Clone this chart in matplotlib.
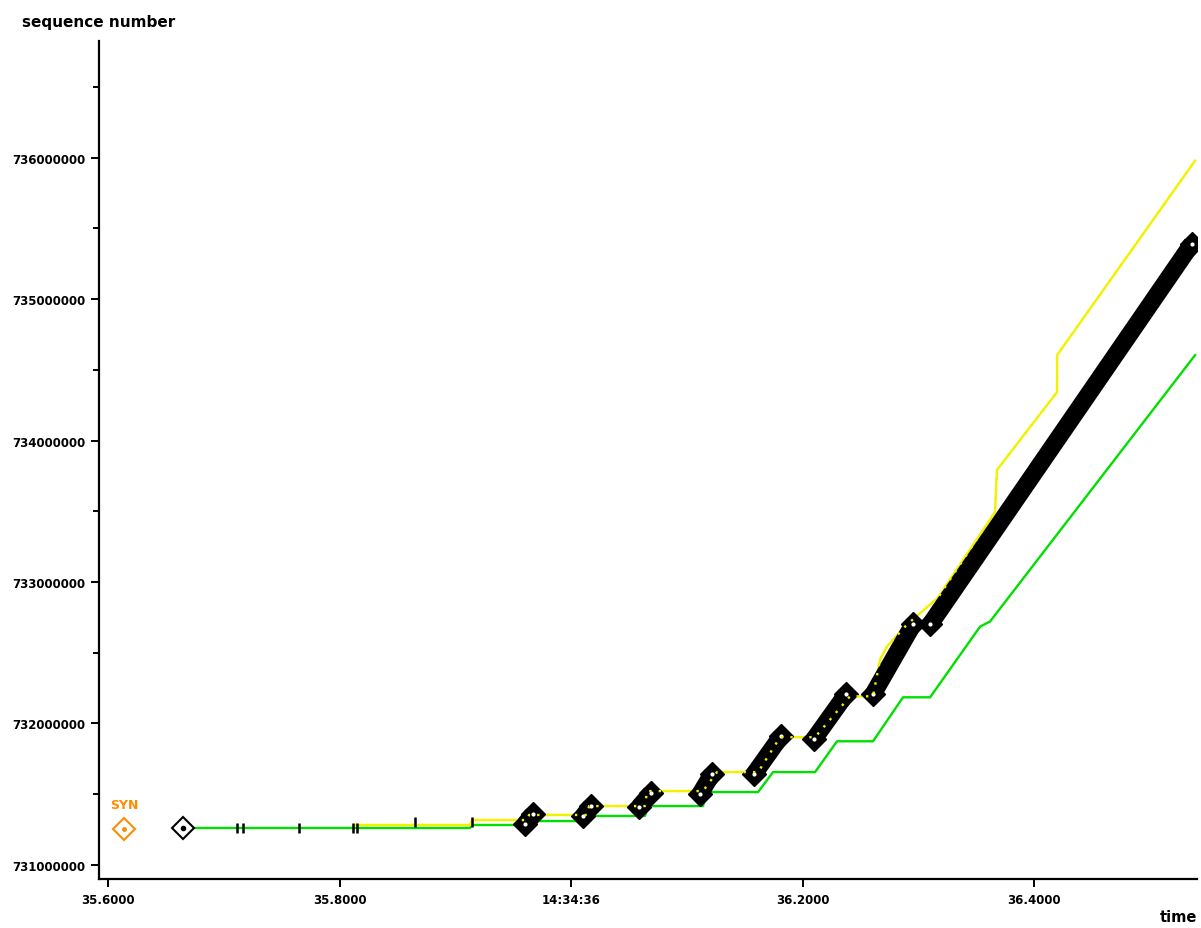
import matplotlib
matplotlib.use("Agg")
import matplotlib.pyplot as plt
from matplotlib.ticker import MultipleLocator

# ack line (green), time in s, seq in millions
ack_t = [35.6648, 35.9127, 35.9145, 35.9620, 35.9637, 36.0138, 36.0156, 36.0639,
         36.0665, 36.1140, 36.1175, 36.1616, 36.1745, 36.2108, 36.2298, 36.2609,
         36.2868, 36.3102, 36.3534, 36.3620, 36.5391]
ack_s = [731.261, 731.261, 731.282, 731.282, 731.310, 731.310, 731.346, 731.346,
         731.416, 731.416, 731.515, 731.515, 731.656, 731.656, 731.874, 731.874,
         732.185, 732.185, 732.685, 732.721, 734.604]

# receive window line (yellow)
win_t = [35.8134, 35.9127, 35.9145, 35.9620, 35.9637, 36.0138, 36.0156, 36.0639,
         36.0657, 36.1140, 36.1261, 36.1616, 36.1806, 36.2108, 36.2410, 36.2609,
         36.2670, 36.2730, 36.2903, 36.3171, 36.3663, 36.3680, 36.4199, 36.4199,
         36.5391]
win_s = [731.282, 731.282, 731.317, 731.317, 731.353, 731.353, 731.416, 731.416,
         731.522, 731.522, 731.656, 731.656, 731.903, 731.903, 732.192, 732.192,
         732.453, 732.544, 732.700, 732.890, 733.496, 733.793, 734.343, 734.604,
         735.979]

# data bursts (black): start / end of each flight
burst_t0 = [35.9603, 36.0104, 36.0587, 36.1114, 36.1581, 36.2099, 36.2609, 36.3102]
burst_t1 = [35.9672, 36.0173, 36.0691, 36.1218, 36.1814, 36.2376, 36.2955, 36.5365]
burst_s0 = [731.289, 731.346, 731.409, 731.501, 731.642, 731.889, 732.206, 732.700]
burst_s1 = [731.360, 731.416, 731.508, 731.642, 731.910, 732.206, 732.700, 735.393]

# single small segments before the bursts
small_t = [35.7114, 35.7166, 35.7650, 35.8117, 35.8151, 35.8652, 35.9145]
small_s = [731.261, 731.261, 731.261, 731.261, 731.261, 731.300, 731.305]

first_t, first_s = 35.6648, 731.261
syn_t, syn_s = 35.6138, 731.254

xtick_vals = [35.6, 35.8, 36.0, 36.2, 36.4]
xtick_labels = ["35.6000", "35.8000", "14:34:36", "36.2000", "36.4000"]
ytick_vals = [731, 732, 733, 734, 735, 736]
ytick_labels = ["731000000", "732000000", "733000000", "734000000", "735000000", "736000000"]

fig = plt.figure(figsize=(12.01, 9.29), dpi=100)
ax = fig.add_axes([0.0824, 0.0527, 0.9143, 0.9021])

ax.plot(ack_t, ack_s, color="#00e000", lw=1.7, zorder=2)
ax.plot(win_t, win_s, color="#f2f200", lw=1.7, zorder=2.5)

for t0, t1, s0, s1 in zip(burst_t0, burst_t1, burst_s0, burst_s1):
    ax.plot([t0, t1], [s0, s1], color="black", lw=12.5, solid_capstyle="butt", zorder=3)
    ax.plot([t0, t1], [s0, s1], ls="none", marker="D", ms=12, color="black", zorder=3)
    ax.plot([t0, t1], [s0, s1], ls="none", marker="o", ms=2, color="white", zorder=4)

# window line shows through the bursts as dots
ax.plot(win_t, win_s, color="#f2f200", lw=1.7, ls=(0, (1, 3)), zorder=4)

ax.plot(small_t, small_s, ls="none", marker="|", ms=7, mew=1.8, color="black", zorder=5)

ax.plot([first_t], [first_s], marker="D", ms=11, mfc="white", mec="black", mew=1.5, zorder=5)
ax.plot([first_t], [first_s], marker="o", ms=3, color="black", zorder=6)

ax.plot([syn_t], [syn_s], marker="D", ms=11, mfc="white", mec="#ff8c00", mew=1.5, zorder=5)
ax.plot([syn_t], [syn_s], marker="o", ms=2.5, color="#ff8c00", zorder=6)
ax.annotate("SYN", (syn_t, syn_s), xytext=(0, 13), textcoords="offset points",
            ha="center", va="bottom", color="#ff8c00", fontsize=9, fontweight="bold")

ax.set_xlim(35.5922, 36.5408)
ax.set_ylim(730.90, 736.825)

ax.set_xticks(xtick_vals)
ax.set_xticklabels(xtick_labels)
ax.set_yticks(ytick_vals)
ax.set_yticklabels(ytick_labels)
ax.yaxis.set_minor_locator(MultipleLocator(0.5))

for side in ["top", "right"]:
    ax.spines[side].set_visible(False)
for side in ["left", "bottom"]:
    ax.spines[side].set_linewidth(1.6)

ax.tick_params(axis="both", which="major", direction="out", length=6, width=1.4,
               labelsize=8.5, pad=4)
ax.tick_params(axis="y", which="minor", direction="out", length=4.5, width=1.4)
for lbl in ax.get_xticklabels() + ax.get_yticklabels():
    lbl.set_fontweight("bold")

fig.text(22 / 1201, 1 - 22 / 929, "sequence number", fontsize=11, fontweight="bold",
         ha="left", va="center")
fig.text(1197 / 1201, 1 - 918 / 929, "time", fontsize=10.5, fontweight="bold",
         ha="right", va="center")

fig.savefig("out.png", dpi=100)
